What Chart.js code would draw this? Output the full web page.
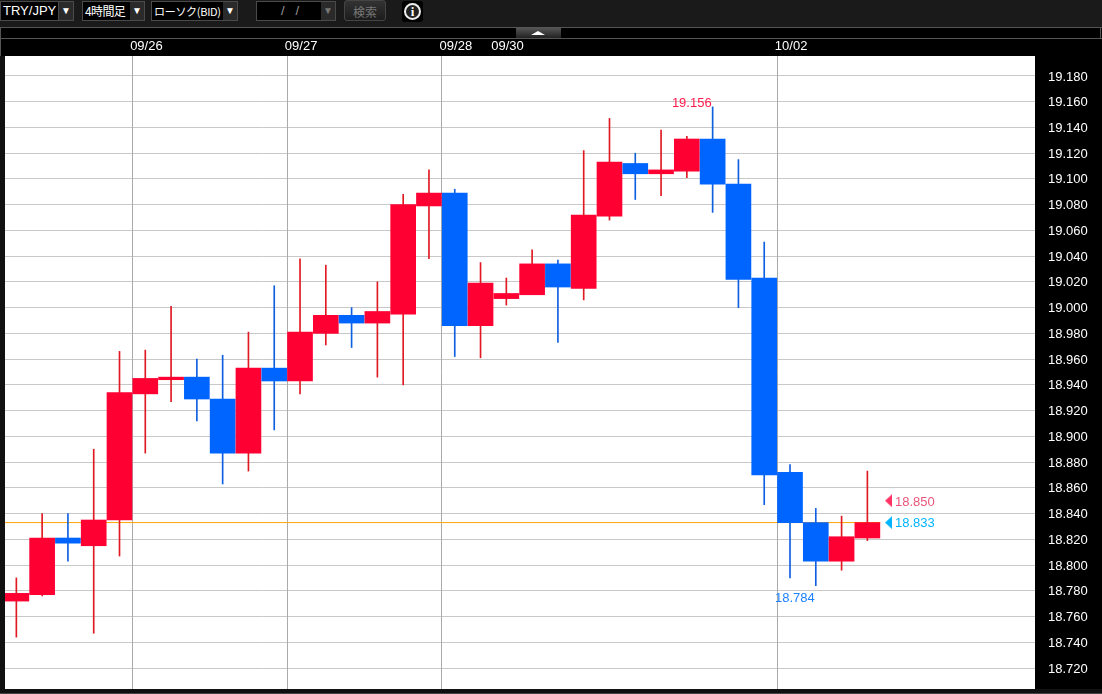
<!DOCTYPE html>
<html><head><meta charset="utf-8">
<script src="https://cdn.jsdelivr.net/npm/chart.js@4"></script>
<style>
html,body{margin:0;padding:0;background:#000;width:1102px;height:694px;overflow:hidden}
#wrap{position:absolute;left:0;top:0;width:1102px;height:694px}
canvas{position:absolute;left:0;top:0}
.bar{position:absolute;left:0;top:0;width:1102px;height:27px;background:#1a1a1a;font:13px "Liberation Sans","Noto Sans CJK JP",sans-serif;color:#fff}
.box{position:absolute;top:1px;height:18px;line-height:18px;border:1px solid #4a4a4a;background:#000;white-space:nowrap;box-sizing:content-box;padding-left:2px;overflow:hidden}
.arr{position:absolute;top:1px;height:18px;width:14px;background:#2a2a2a;border:1px solid #4a4a4a;border-left:none;color:#fff;font-size:10px;line-height:18px;text-align:center}
.btn{position:absolute;left:344px;top:0;width:42px;height:21px;line-height:21px;border-radius:3px;border:1px solid #444;box-sizing:border-box;background:linear-gradient(#333,#1c1c1c);color:#777;text-align:center;font-size:12px;font-family:"Noto Sans CJK JP",sans-serif}
.info{position:absolute;left:402px;top:1px;width:21px;height:21px;border-radius:3px;background:#000}
.info b{position:absolute;left:2px;top:2px;width:13px;height:13px;border:2px solid #eee;border-radius:50%;background:#222;color:#fff;font:bold 13px/13px "Liberation Serif",serif;text-align:center}
.rule{position:absolute;left:1px;width:1101px;height:1px;background:#555}
.collapse{position:absolute;left:516px;top:28px;width:45px;height:10px;background:linear-gradient(#555,#222)}
.collapse i{position:absolute;left:15px;top:3px;width:0;height:0;border-left:7px solid transparent;border-right:7px solid transparent;border-bottom:4px solid #fff}
.leftedge{position:absolute;left:0;top:56px;width:5px;height:638px;background:#111}
.bottom{position:absolute;left:0;top:689px;width:1102px;height:5px;background:#111}
.bottom:after{content:"";position:absolute;left:0;bottom:0;width:100%;height:1px;background:#444}
.vl{position:absolute;left:0;top:27px;width:1px;height:29px;background:#555}
.vr{position:absolute;left:1100px;top:27px;width:1px;height:12px;background:#555}
</style></head>
<body>
<div id="wrap">
<canvas id="c" width="1102" height="694"></canvas>
<div class="bar">
 <div class="box" style="left:0;width:55px">TRY/JPY</div><div class="arr" style="left:59px">▼</div>
 <div class="box" style="left:82px;width:45px;font-size:12px;letter-spacing:-.6px;font-family:'Noto Sans CJK JP',sans-serif">4時間足</div><div class="arr" style="left:130px">▼</div>
 <div class="box" style="left:151px;width:69px;font-size:11px;letter-spacing:-.3px;font-family:'Noto Sans CJK JP',sans-serif">ローソク(BID)</div><div class="arr" style="left:223px">▼</div>
 <div class="box" style="left:256px;width:62px;color:#999;text-align:center">/&nbsp;&nbsp;&nbsp;/</div><div class="arr" style="left:321px;color:#777">▼</div>
 <div class="btn">検索</div>
 <div class="info"><b>i</b></div>
</div>
<div class="rule" style="top:27px"></div>
<div class="rule" style="top:38px"></div>
<div class="vl"></div><div class="vr"></div>
<div class="collapse"><i></i></div>
<div class="leftedge"></div>
<div class="bottom"></div>
</div>
<script>
const opens  = [18.772,18.777,18.821,18.815,18.835,18.933,18.944,18.946,18.929,18.887,18.953,18.943,18.980,18.994,18.988,18.995,19.079,19.089,18.986,19.007,19.010,19.034,19.015,19.071,19.112,19.104,19.106,19.131,19.096,19.023,18.872,18.833,18.803,18.821];
const highs  = [18.790,18.840,18.840,18.890,18.966,18.967,19.001,18.960,18.963,18.981,19.017,19.038,19.033,19.000,19.020,19.088,19.107,19.092,19.035,19.023,19.045,19.037,19.122,19.147,19.120,19.138,19.133,19.156,19.115,19.051,18.878,18.844,18.838,18.873];
const lows   = [18.744,18.776,18.803,18.747,18.807,18.887,18.927,18.912,18.863,18.873,18.905,18.933,18.971,18.969,18.946,18.940,19.038,18.962,18.961,19.002,19.010,18.973,19.006,19.068,19.084,19.087,19.101,19.074,19.000,18.847,18.790,18.784,18.796,18.819];
const closes = [18.778,18.821,18.817,18.835,18.934,18.945,18.946,18.929,18.887,18.953,18.943,18.981,18.994,18.988,18.997,19.080,19.089,18.986,19.019,19.011,19.034,19.016,19.072,19.113,19.104,19.107,19.131,19.096,19.022,18.870,18.833,18.803,18.822,18.833];
const priceTicks = [19.18,19.16,19.14,19.12,19.10,19.08,19.06,19.04,19.02,19.00,18.98,18.96,18.94,18.92,18.90,18.88,18.86,18.84,18.82,18.80,18.78,18.76,18.74,18.72,18.70];
const dateTicks  = [4.5,10.5,16.5,18.5,29.5];
const dateLabels = ["09/26","09/27","09/28","09/30","10/02"];
const dateNoGrid = [18.5];
const bidPrice = 18.833;
const askPrice = 18.850;
const highIndex = 27, highPrice = 19.156;
const lowIndex = 31, lowPrice = 18.784;

const FONT = '"Liberation Sans", Arial, sans-serif';
const UP = '#ff0033', DOWN = '#0064ff', UPW = '#e01a22', DOWNW = '#0f60e0';
const xs = opens.map((_, i) => i);
const isUp = opens.map((o, i) => closes[i] >= o);

function marker(color) {
  const m = document.createElement('canvas');
  m.width = 7; m.height = 13;
  const g = m.getContext('2d');
  g.fillStyle = color;
  g.beginPath(); g.moveTo(0, 6.5); g.lineTo(7, 0); g.lineTo(7, 13); g.closePath(); g.fill();
  return m;
}

const backdrop = {
  id: 'backdrop',
  beforeDraw(ch) {
    const a = ch.chartArea, c = ch.ctx;
    c.save(); c.fillStyle = '#fff'; c.fillRect(a.left, a.top, a.right - a.left, a.bottom - a.top); c.restore();
  }
};
const priceLabels = {
  id: 'priceLabels',
  afterDatasetsDraw(ch) {
    const c = ch.ctx, X = ch.scales.x, Y = ch.scales.y;
    c.save();
    c.font = '13px ' + FONT;
    c.textBaseline = 'middle';
    c.textAlign = 'right';
    c.fillStyle = '#ff1a4a';
    c.fillText(highPrice.toFixed(3), X.getPixelForValue(highIndex) - 1, Y.getPixelForValue(highPrice) - 3);
    c.fillStyle = '#1e82ff';
    c.fillText(lowPrice.toFixed(3), X.getPixelForValue(lowIndex) - 1, Y.getPixelForValue(lowPrice) + 13);
    c.textAlign = 'left';
    const mx = X.getPixelForValue(33.82) + 6.5;
    c.fillStyle = '#e8557a';
    c.fillText(askPrice.toFixed(3), mx, Y.getPixelForValue(askPrice) + 1.5);
    c.fillStyle = '#00b4ff';
    c.fillText(bidPrice.toFixed(3), mx, Y.getPixelForValue(bidPrice) + 1);
    c.restore();
  }
};
function noPad(s) { s.paddingLeft = s.paddingRight = s.paddingTop = s.paddingBottom = 0; }

new Chart(document.getElementById('c'), {
  type: 'bar',
  plugins: [backdrop, priceLabels],
  data: {
    datasets: [
      { type: 'line', order: 4, data: [{x: -0.44, y: bidPrice}, {x: 33.5, y: bidPrice}], borderColor: '#ffa500', borderWidth: 1, pointRadius: 0, tension: 0 },
      { order: 3, grouped: false, barThickness: 1, data: xs.map(i => ({x: i, y: [lows[i], highs[i]]})), backgroundColor: isUp.map(u => u ? UPW : DOWNW) },
      { order: 2, grouped: false, barThickness: 25, data: xs.map(i => ({x: i, y: [opens[i], closes[i]]})), backgroundColor: isUp.map(u => u ? UP : DOWN) },
      { type: 'line', order: 1, showLine: false, data: [{x: 33.82, y: askPrice}], pointStyle: marker('#ff3366'), pointRadius: 7 },
      { type: 'line', order: 1, showLine: false, data: [{x: 33.82, y: bidPrice}], pointStyle: marker('#00b4ff'), pointRadius: 7 }
    ]
  },
  options: {
    responsive: false, animation: false, devicePixelRatio: 1,
    layout: { autoPadding: false, padding: { left: 5, top: 40, bottom: 5, right: 0 } },
    plugins: { legend: { display: false }, tooltip: { enabled: false } },
    scales: {
      x: {
        type: 'linear', position: 'top', offset: false, min: -0.44, max: 39.5,
        afterBuildTicks(s) { s.ticks = dateTicks.map(v => ({value: v})); },
        afterFit(s) { s.height = 16; noPad(s); },
        border: { display: false },
        grid: { offset: false, drawTicks: false, tickLength: 0, lineWidth: 1, color: c => (c.tick && dateNoGrid.includes(c.tick.value)) ? 'rgba(0,0,0,0)' : '#aaaaaa', z: 0 },
        ticks: { autoSkip: false, maxRotation: 0, minRotation: 0, padding: 2, labelOffset: 14, color: '#fff', font: { family: FONT, size: 13 },
          callback: v => dateLabels[dateTicks.indexOf(v)] }
      },
      y: {
        type: 'linear', position: 'right', min: 18.7037, max: 19.1955,
        afterBuildTicks(s) { s.ticks = priceTicks.map(v => ({value: v})); },
        afterFit(s) { s.width = 67; noPad(s); },
        border: { display: false },
        grid: { drawTicks: false, tickLength: 0, lineWidth: 1, color: c => (c.tick && c.tick.value < 18.7037) ? 'rgba(0,0,0,0)' : '#c8c8c8' },
        ticks: { autoSkip: false, padding: 13, labelOffset: 1, color: '#fff', font: { family: FONT, size: 13 }, callback: v => v.toFixed(3) }
      }
    }
  }
});
</script>
</body></html>
